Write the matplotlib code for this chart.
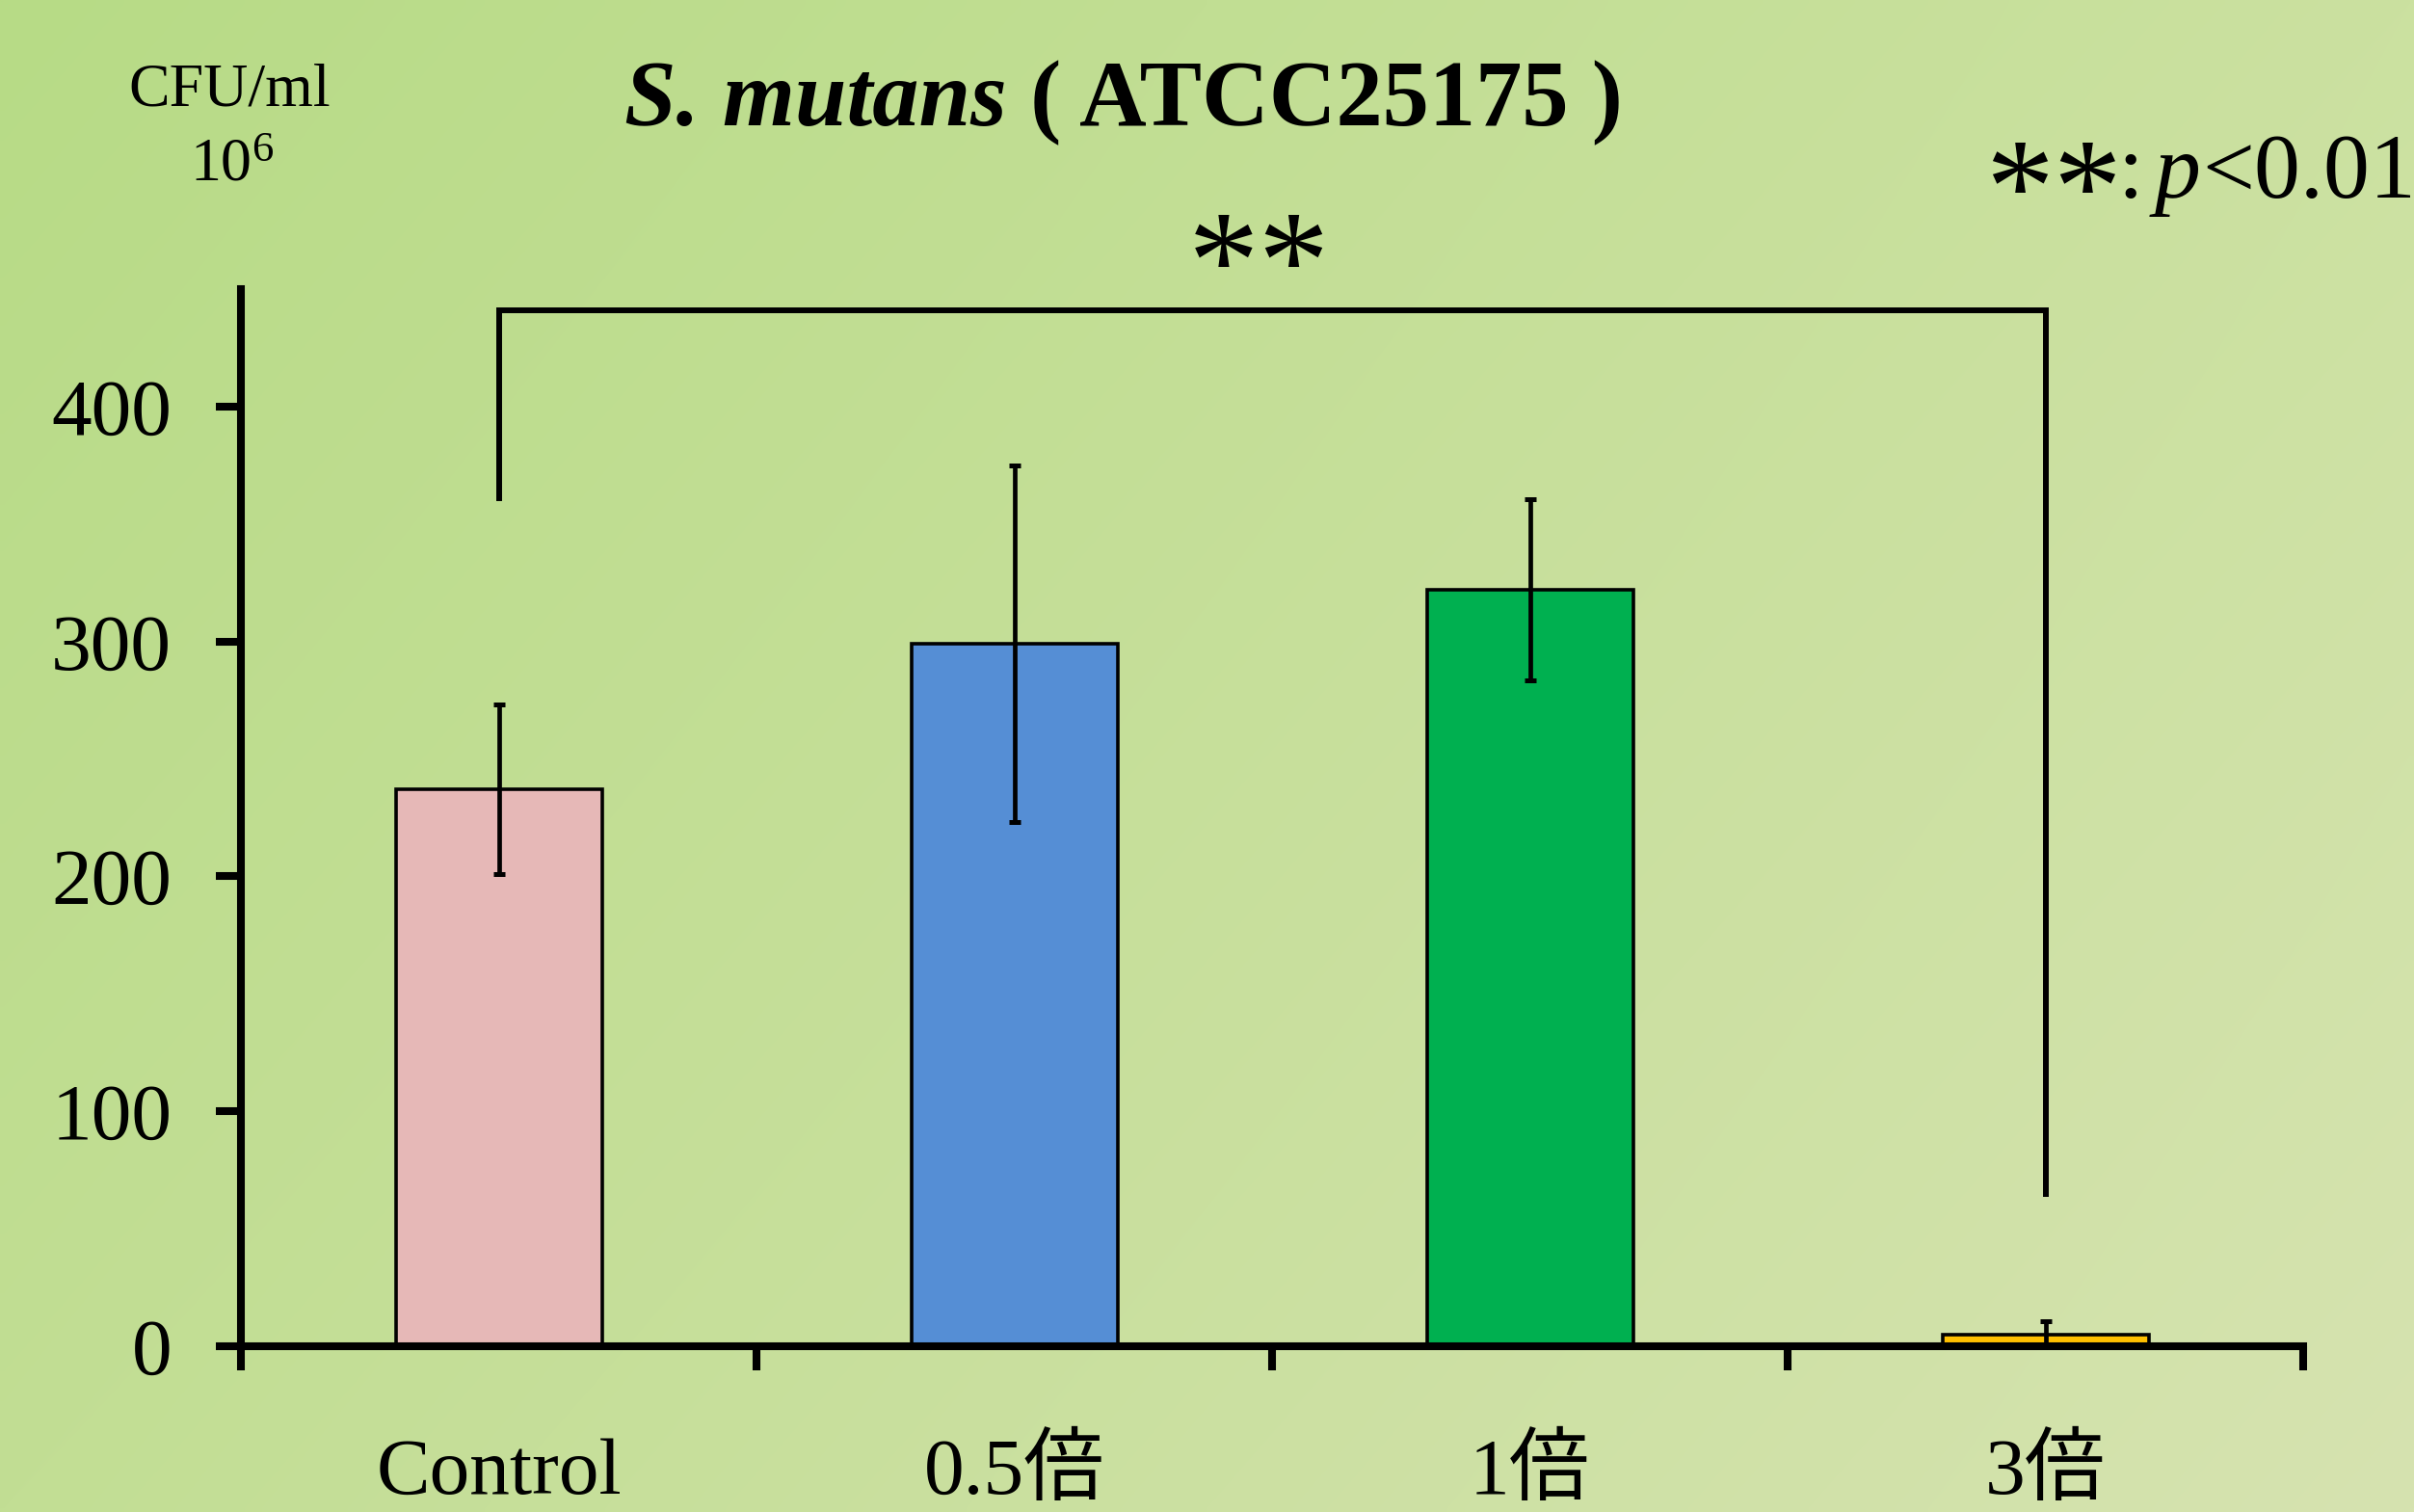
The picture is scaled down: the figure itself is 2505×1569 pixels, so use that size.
import numpy as np
import matplotlib
matplotlib.use('Agg')
import matplotlib.pyplot as plt
from matplotlib.textpath import TextPath
from matplotlib.font_manager import FontProperties

# ---------------- data ----------------
categories = ['Control', '0.5倍', '1倍', '3倍']
values = [237, 299, 322, 5]
errors = [36, 76, 38.5, 5.5]
colors = ['#e6b8b7', '#558ed5', '#00b050', '#ffc000']
yticks = [0, 100, 200, 300, 400]
ytick_labels = ['0', '100', '200', '300', '400']
bracket_left_y = 361
bracket_top_y = 441
bracket_right_y = 65
title_italic = 'S. mutans'
title_rest = ' ( ATCC25175 )'

plt.rcParams['font.family'] = ['Liberation Serif', 'Noto Sans CJK JP']
plt.rcParams['mathtext.fontset'] = 'custom'
plt.rcParams['mathtext.rm'] = 'Liberation Serif'
plt.rcParams['mathtext.it'] = 'Liberation Serif:italic'

W, H = 2505, 1569
DPI = 100
fig = plt.figure(figsize=(W / DPI, H / DPI), dpi=DPI)


def fx(x):
    return x / W


def fy(y):
    return 1 - y / H


# ---------------- background gradient ----------------
bg = fig.add_axes([0, 0, 1, 1], zorder=-10)
ny, nx = 200, 300
yy, xx = np.mgrid[0:1:ny * 1j, 0:1:nx * 1j]
tl = np.array([183, 219, 134])
tr = np.array([203, 225, 160])
bl = np.array([194, 222, 148])
br = np.array([214, 227, 176])
img = (tl * ((1 - xx) * (1 - yy))[..., None] + tr * (xx * (1 - yy))[..., None]
       + bl * ((1 - xx) * yy)[..., None] + br * (xx * yy)[..., None]) / 255.0
bg.imshow(img, aspect='auto', interpolation='bilinear')
bg.axis('off')

# ---------------- main axes ----------------
ax = fig.add_axes([250 / W, 1 - 1397 / H, (2390 - 250) / W, (1397 - 300) / H])
ax.patch.set_alpha(0)
x = np.arange(len(categories))
ax.bar(x, values, width=0.4, color=colors, edgecolor='black', linewidth=2.6, zorder=2)
ax.errorbar(x, values, yerr=errors, fmt='none', ecolor='black', elinewidth=3.4,
            capsize=4.3, capthick=3.6, zorder=3)

ax.set_xlim(-0.5, 3.5)
ax.set_ylim(0, 450)
for s in ['top', 'right']:
    ax.spines[s].set_visible(False)
for s in ['left', 'bottom']:
    ax.spines[s].set_linewidth(5.8)
    ax.spines[s].set_zorder(4)

ax.set_yticks(yticks)
ax.set_yticklabels(ytick_labels)
ax.tick_params(axis='y', length=18.7, width=5.8, labelsize=60, pad=33, direction='out')
ax.set_xticks([])
ax.set_xticks(np.arange(-0.5, 4.0, 1.0), minor=True)
ax.tick_params(axis='x', which='minor', length=18, width=5.8, direction='out')
for lbl in ax.get_yticklabels():
    lbl.set_va('center_baseline')

# category labels
for i, c in enumerate(categories):
    ax.text(i, -153 / 1097, c, transform=ax.get_xaxis_transform(), ha='center',
            va='baseline', fontsize=60)

# significance bracket
ax.plot([0, 0, 3, 3], [bracket_left_y, bracket_top_y, bracket_top_y, bracket_right_y],
        color='black', lw=4.3, clip_on=False, solid_joinstyle='miter', zorder=3)

# ---------------- asterisk helper ----------------
fp_star = FontProperties(family='Liberation Serif')


def stars(cx, cy, ink_h, s_txt='**'):
    tp = TextPath((0, 0), s_txt, size=100, prop=fp_star)
    e = tp.get_extents()
    k = DPI / 72.0
    s = 100 * ink_h / ((e.y1 - e.y0) * k)
    sc = s / 100.0
    icx = (e.x0 + e.x1) / 2 * k * sc
    icy = (e.y0 + e.y1) / 2 * k * sc
    x0 = cx - icx
    yb = (H - cy) - icy
    fig.text(x0 / W, yb / H, s_txt, fontsize=s, ha='left', va='baseline',
             family='Liberation Serif')


# ** above bracket
stars(1307, 250, 54)

# ---------------- texts ----------------
renderer = fig.canvas.get_renderer()
t1 = fig.text(fx(648), fy(130), title_italic, fontsize=69.5, fontweight='bold',
              fontstyle='italic', ha='left', va='baseline')
bb = t1.get_window_extent(renderer)
fig.text(bb.x1 / W, fy(130), title_rest, fontsize=69.5, fontweight='bold',
         ha='left', va='baseline')

fig.text(fx(238), fy(110), 'CFU/ml', fontsize=46, ha='center', va='baseline')
fig.text(fx(241), fy(187), r'$10^{6}$', fontsize=46, ha='center', va='baseline')

# **: p<0.01
stars(2131, 174, 52)
fig.text(fx(2197), fy(205), ':', fontsize=69, ha='left', va='baseline')
fig.text(fx(2236), fy(205), 'p', fontsize=69, fontstyle='italic', ha='left', va='baseline')
fig.text(fx(2285), fy(205), '<0.01', fontsize=69, ha='left', va='baseline')

fig.savefig('out.png', dpi=DPI)
